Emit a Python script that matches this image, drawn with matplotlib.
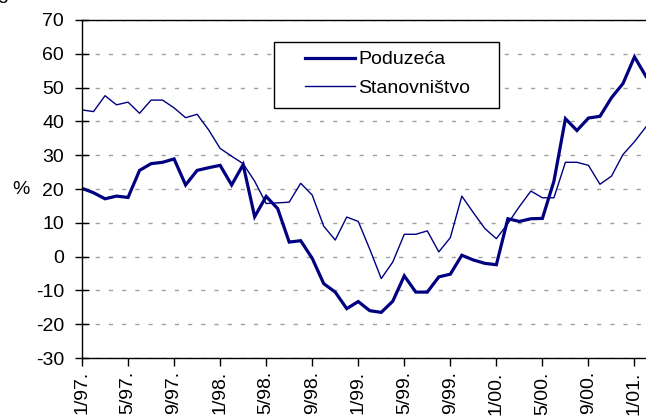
import matplotlib
matplotlib.use("Agg")
import matplotlib.pyplot as plt
from matplotlib.patches import Rectangle
import numpy as np

plt.rcParams["font.family"] = ["Liberation Sans", "DejaVu Sans"]
plt.rcParams["axes.unicode_minus"] = False

# monthly values, 1/97 .. 2/01
poduzeca = [20.2, 18.9, 17.1, 17.9, 17.5, 25.5, 27.5, 27.9, 28.9, 21.2,
            25.5, 26.3, 27.0, 21.2, 27.2, 11.8, 17.8, 14.2, 4.3, 4.7,
            -0.5, -8.0, -10.5, -15.4, -13.3, -16.0, -16.5, -13.2, -5.7, -10.5,
            -10.5, -6.0, -5.2, 0.4, -1.0, -2.0, -2.4, 11.2, 10.4, 11.2,
            11.3, 22.3, 40.8, 37.3, 41.0, 41.5, 47.0, 51.2, 59.1, 53.3]
stanovnistvo = [43.4, 42.9, 47.6, 44.9, 45.7, 42.4, 46.3, 46.3, 44.0, 41.1,
                42.1, 37.5, 32.0, 29.7, 27.5, 22.3, 15.7, 15.9, 16.1, 21.7,
                18.2, 9.0, 4.9, 11.7, 10.4, 2.2, -6.5, -1.6, 6.6, 6.6,
                7.6, 1.4, 5.6, 17.9, 13.0, 8.3, 5.3, 9.8, 14.8, 19.4,
                17.4, 17.4, 27.9, 27.9, 27.0, 21.4, 23.8, 30.2, 34.0, 38.4]
tick_labels = ["1/97.", "5/97.", "9/97.", "1/98.", "5/98.", "9/98.", "1/99.",
               "5/99.", "9/99.", "1/00.", "5/00.", "9/00.", "1/01."]

x = np.arange(len(poduzeca))
navy = "#000080"
fs = 14

fig = plt.figure(figsize=(6.46, 4.19), dpi=100)
ax = fig.add_axes([82 / 646, 1 - 358 / 419, 1 - 82 / 646, (358 - 20) / 419])

ax.plot(x, poduzeca, color=navy, lw=2.3, label="Poduzeća", solid_joinstyle="miter")
ax.plot(x, stanovnistvo, color=navy, lw=1.0, label="Stanovništvo")

ax.set_xlim(0, len(x) - 1)
ax.set_ylim(-30, 70)
ax.set_yticks(np.arange(-30, 71, 10))
ax.set_xticks(np.arange(0, len(x), 4))
ax.set_xticklabels(tick_labels, rotation=90)
ax.tick_params(axis="y", direction="inout", length=10, width=1, pad=8, labelsize=fs)
ax.tick_params(axis="x", direction="out", length=6, width=1, pad=3.5, labelsize=fs)
for lab in ax.get_xticklabels():
    lab.set_va("top")

ax.yaxis.grid(True, color="#a0a0a0", lw=1.0, linestyle=(0, (3, 6.5)))
ax.set_axisbelow(True)
ax.spines["right"].set_visible(False)
for s in ["left", "bottom", "top"]:
    ax.spines[s].set_linewidth(1.0)
    ax.spines[s].set_color("black")

# legend box
ax.add_patch(Rectangle((0.340, 0.741), 0.399, 0.195, transform=ax.transAxes,
                       facecolor="white", edgecolor="black", lw=1.0, zorder=4))
leg = ax.legend(loc="center left", bbox_to_anchor=(0.395, 0.841), frameon=False,
                fontsize=fs, handlelength=2.6, handletextpad=0.15,
                borderpad=0, borderaxespad=0, labelspacing=0.55)
leg.set_zorder(5)

fig.text(20.5 / 646, 1 - 189 / 419, "%", fontsize=fs, ha="center", va="center")
# partly visible text at the top-left edge, as in the original crop
fig.text(-0.004, 1.003, "g", fontsize=fs, ha="left", va="baseline")

fig.savefig("out.png", dpi=100)
